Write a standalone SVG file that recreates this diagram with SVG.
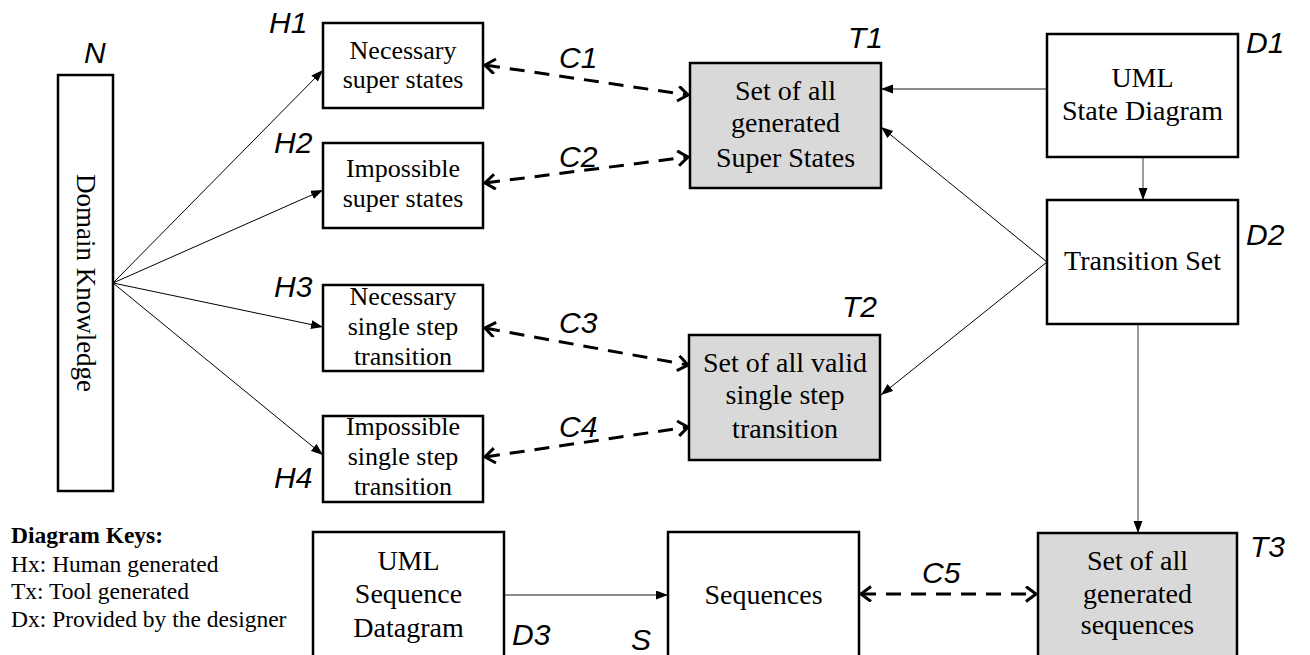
<svg xmlns="http://www.w3.org/2000/svg" width="1310" height="655" viewBox="0 0 1310 655">
<style>
.box{fill:#fff;stroke:#000;stroke-width:2.5}
.tool{fill:#d9d9d9;stroke:#000;stroke-width:2.5}
.t{font-family:"Liberation Serif","Times New Roman",serif;fill:#000;text-anchor:middle}
.h{font-size:26px}
.b{font-size:28px}
.lbl{font-family:"Liberation Sans",Arial,sans-serif;font-style:italic;font-size:30px;fill:#000}
.key{font-family:"Liberation Serif","Times New Roman",serif;font-size:23.5px;fill:#000}
.thin{stroke:#000;stroke-width:1;fill:none}
.gray{stroke:#666;stroke-width:1.3;fill:none}
.dash{stroke:#000;stroke-width:3;fill:none;stroke-dasharray:15 10}
</style>
<defs>
<marker id="ah" markerUnits="userSpaceOnUse" markerWidth="13" markerHeight="10" refX="12" refY="4.5" orient="auto">
<path d="M0,0 L12,4.5 L0,9 z" fill="#000"/>
</marker>
<marker id="oa" markerUnits="userSpaceOnUse" markerWidth="14" markerHeight="18" refX="11" refY="8" orient="auto-start-reverse">
<path d="M1,0.5 L11,8 L1,15.5" fill="none" stroke="#000" stroke-width="3"/>
</marker>
</defs>

<g id="connectors">
<line class="thin" x1="113" y1="283" x2="323" y2="70" marker-end="url(#ah)"/>
<line class="thin" x1="113" y1="283" x2="323" y2="190" marker-end="url(#ah)"/>
<line class="thin" x1="113" y1="283" x2="323" y2="327" marker-end="url(#ah)"/>
<line class="thin" x1="113" y1="283" x2="323" y2="455" marker-end="url(#ah)"/>
<line class="gray" x1="1047" y1="89" x2="881" y2="89" marker-end="url(#ah)"/>
<line class="gray" x1="1143" y1="157" x2="1143" y2="200" marker-end="url(#ah)"/>
<line class="thin" x1="1047" y1="262" x2="881" y2="127" marker-end="url(#ah)"/>
<line class="thin" x1="1047" y1="262" x2="881" y2="395" marker-end="url(#ah)"/>
<line class="gray" x1="1138" y1="324" x2="1138" y2="533" marker-end="url(#ah)"/>
<line class="gray" x1="504" y1="595" x2="668" y2="595" marker-end="url(#ah)"/>
<line class="dash" x1="485" y1="65" x2="688" y2="95" marker-start="url(#oa)" marker-end="url(#oa)"/>
<line class="dash" x1="485" y1="183" x2="688" y2="157" marker-start="url(#oa)" marker-end="url(#oa)"/>
<line class="dash" x1="485" y1="328" x2="688" y2="365" marker-start="url(#oa)" marker-end="url(#oa)"/>
<line class="dash" x1="485" y1="457" x2="688" y2="427" marker-start="url(#oa)" marker-end="url(#oa)"/>
<line class="dash" x1="861" y1="594" x2="1036" y2="594" marker-start="url(#oa)" marker-end="url(#oa)"/>
<text class="lbl" x="559" y="68">C1</text>
<text class="lbl" x="559" y="167">C2</text>
<text class="lbl" x="559" y="333">C3</text>
<text class="lbl" x="559" y="437">C4</text>
<text class="lbl" x="922" y="583">C5</text>
</g>

<g id="N">
<rect class="box" x="58" y="75" width="55" height="416"/>
<text class="t" font-size="27" transform="translate(77,283) rotate(90)" x="0" y="0">Domain Knowledge</text>
<text class="lbl" x="84" y="63">N</text>
</g>

<g id="H1">
<rect class="box" x="323" y="23" width="160" height="85"/>
<text class="t h" x="403" y="59">Necessary</text>
<text class="t h" x="403" y="88">super states</text>
<text class="lbl" x="269" y="33">H1</text>
</g>
<g id="H2">
<rect class="box" x="323" y="143" width="160" height="85"/>
<text class="t h" x="403" y="177">Impossible</text>
<text class="t h" x="403" y="207">super states</text>
<text class="lbl" x="274" y="153">H2</text>
</g>
<g id="H3">
<rect class="box" x="323" y="285" width="160" height="86"/>
<text class="t h" x="403" y="305">Necessary</text>
<text class="t h" x="403" y="335">single step</text>
<text class="t h" x="403" y="365">transition</text>
<text class="lbl" x="274" y="297">H3</text>
</g>
<g id="H4">
<rect class="box" x="323" y="416" width="160" height="86"/>
<text class="t h" x="403" y="435">Impossible</text>
<text class="t h" x="403" y="465">single step</text>
<text class="t h" x="403" y="495">transition</text>
<text class="lbl" x="274" y="488">H4</text>
</g>

<g id="T1">
<rect class="tool" x="690" y="63" width="191" height="125"/>
<text class="t b" x="785.5" y="100">Set of all</text>
<text class="t b" x="785.5" y="132">generated</text>
<text class="t b" x="785.5" y="167">Super States</text>
<text class="lbl" x="848" y="48">T1</text>
</g>
<g id="T2">
<rect class="tool" x="689" y="335" width="191" height="125"/>
<text class="t b" x="785" y="372">Set of all valid</text>
<text class="t b" x="785" y="404">single step</text>
<text class="t b" x="785" y="438">transition</text>
<text class="lbl" x="842" y="317">T2</text>
</g>
<g id="T3">
<rect class="tool" x="1038" y="533" width="199" height="124"/>
<text class="t b" x="1137.5" y="570">Set of all</text>
<text class="t b" x="1137.5" y="603">generated</text>
<text class="t b" x="1137.5" y="634">sequences</text>
<text class="lbl" x="1250" y="557">T3</text>
</g>

<g id="D1">
<rect class="box" x="1047" y="34" width="191" height="123"/>
<text class="t b" x="1142.5" y="87">UML</text>
<text class="t b" x="1142.5" y="120">State Diagram</text>
<text class="lbl" x="1246" y="53">D1</text>
</g>
<g id="D2">
<rect class="box" x="1047" y="200" width="191" height="124"/>
<text class="t b" x="1142.5" y="270">Transition Set</text>
<text class="lbl" x="1246" y="245">D2</text>
</g>
<g id="D3">
<rect class="box" x="313" y="532" width="191" height="125"/>
<text class="t b" x="408.5" y="570">UML</text>
<text class="t b" x="408.5" y="603">Sequence</text>
<text class="t b" x="408.5" y="637">Datagram</text>
<text class="lbl" x="512" y="645">D3</text>
</g>
<g id="S">
<rect class="box" x="668" y="532" width="191" height="125"/>
<text class="t b" x="763.5" y="604">Sequences</text>
<text class="lbl" x="631" y="650">S</text>
</g>

<g id="legend">
<text class="key" x="11" y="543" font-weight="bold">Diagram Keys:</text>
<text class="key" x="11" y="572">Hx: Human generated</text>
<text class="key" x="11" y="599">Tx: Tool generated</text>
<text class="key" x="11" y="627">Dx: Provided by the designer</text>
</g>
</svg>
